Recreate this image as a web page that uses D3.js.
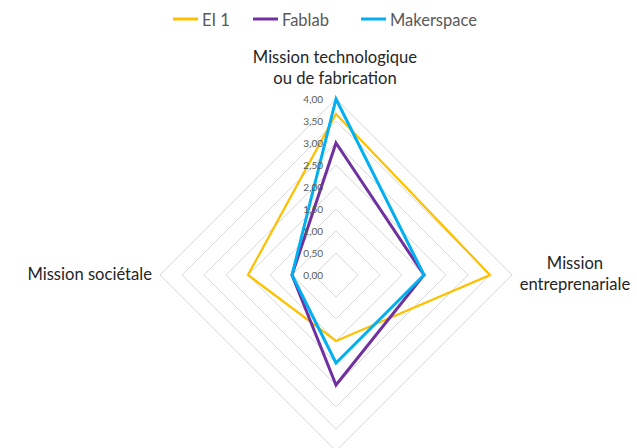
<!DOCTYPE html>
<html>
<head>
<meta charset="utf-8">
<script src="https://cdn.jsdelivr.net/npm/d3@7"></script>
<style>
  html, body { margin: 0; padding: 0; background: #fff; }
  svg { display: block; font-family: Lato, "Open Sans", sans-serif; }
</style>
</head>
<body>
<svg id="chart" width="637" height="448"></svg>
<script>
// Axes of the radar, clockwise from the top (the bottom axis has no visible label)
const axes = [
  ["Mission technologique", "ou de fabrication"],
  ["Mission", "entreprenariale"],
  [],
  ["Mission sociétale"]
];
const seriesNames = ["EI 1", "Fablab", "Makerspace"];
const seriesColors = ["#FFC000", "#7030A0", "#00B0F0"];
const ei1 = [3.66, 3.5, 1.5, 2.0];
const fablab = [3.0, 2.0, 2.5, 1.0];
const makerspace = [4.0, 2.0, 2.0, 1.0];
const tickValues = [0, 0.5, 1, 1.5, 2, 2.5, 3, 3.5, 4];

const seriesValues = [ei1, fablab, makerspace];

const svg = d3.select("#chart");
const cx = 336, cy = 275, R = 176;

const r = d3.scaleLinear().domain([0, 4]).range([0, R]);
const angle = d3.scaleLinear().domain([0, axes.length]).range([0, 2 * Math.PI]);
const pt = (i, v) => [cx + r(v) * Math.sin(angle(i)), cy - r(v) * Math.cos(angle(i))];

// Concentric grid polygons
const grid = svg.append("g");
tickValues.filter(t => t > 0).forEach(t => {
  grid.append("path")
    .attr("d", d3.line()(axes.map((_, i) => pt(i, t))) + "Z")
    .attr("fill", "none")
    .attr("stroke", "#d9d9d9")
    .attr("stroke-width", 1);
});

// Series polygons
const line = d3.line().curve(d3.curveLinearClosed);
seriesValues.forEach((vals, s) => {
  svg.append("path")
    .attr("d", line(vals.map((v, i) => pt(i, v))))
    .attr("fill", "none")
    .attr("stroke", seriesColors[s])
    .attr("stroke-width", s === 0 ? 2.25 : 3)
    .attr("stroke-linejoin", "miter");
});

// Radial tick labels along the top axis
const fmt = v => d3.format(".2f")(v).replace(".", ",");
svg.append("g").selectAll("text")
  .data(tickValues)
  .join("text")
  .attr("x", cx - 13)
  .attr("y", d => cy - r(d) + 3.5)
  .attr("text-anchor", "end")
  .attr("font-size", 10)
  .attr("fill", "#595959")
  .text(fmt);

// Axis labels
const labelPos = [
  { x: 335, y: 63, anchor: "middle" },
  { x: 575, y: 269, anchor: "middle" },
  { x: 336, y: 470, anchor: "middle" },
  { x: 152, y: 280, anchor: "end" }
];
axes.forEach((lines, i) => {
  if (!lines.length) return;
  const t = svg.append("text")
    .attr("x", labelPos[i].x)
    .attr("y", labelPos[i].y)
    .attr("text-anchor", labelPos[i].anchor)
    .attr("font-size", 16.6)
    .attr("fill", "#262626");
  lines.forEach((l, k) => {
    t.append("tspan").attr("x", labelPos[i].x).attr("dy", k === 0 ? 0 : 21).text(l);
  });
});

// Legend
const legendX = [173, 253, 361];
const leg = svg.append("g");
seriesNames.forEach((n, s) => {
  leg.append("line")
    .attr("x1", legendX[s]).attr("x2", legendX[s] + 25)
    .attr("y1", 19).attr("y2", 19)
    .attr("stroke", seriesColors[s]).attr("stroke-width", 3);
  leg.append("text")
    .attr("x", legendX[s] + 29).attr("y", 26)
    .attr("font-size", 16.5)
    .attr("fill", "#595959")
    .text(n);
});
</script>
</body>
</html>
